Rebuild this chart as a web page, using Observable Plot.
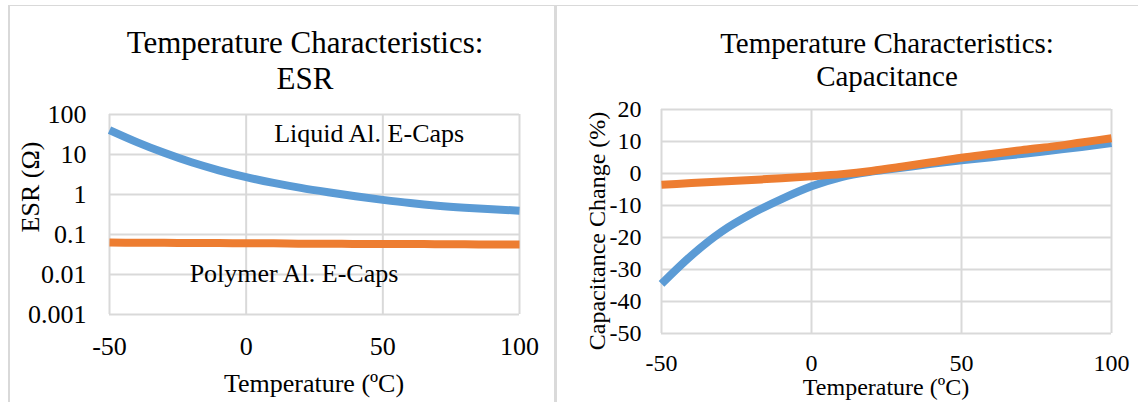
<!DOCTYPE html>
<html>
<head>
<meta charset="utf-8">
<script src="https://cdn.jsdelivr.net/npm/d3@7"></script>
<script src="https://cdn.jsdelivr.net/npm/@observablehq/plot@0.6"></script>
<style>
  html, body { margin: 0; padding: 0; background: #fff; }
  #page {
    position: relative; width: 1138px; height: 402px; overflow: hidden;
    font-family: "Liberation Serif", "Times New Roman", serif; color: #000;
  }
  .rule { position: absolute; background: #d9d9d9; }
  .chart { position: absolute; top: 95px; }
  .title, .axis-title { position: absolute; white-space: nowrap; text-align: center; }
  .title { transform: translateX(-50%); }
  .axis-title.x { transform: translateX(-50%); }
  .axis-title.y { transform: translate(-50%, -50%) rotate(-90deg); }
</style>
</head>
<body>
<div id="page">
  <div class="rule" style="left:8px; top:5px; width:1130px; height:1px;"></div>
  <div class="rule" style="left:8px; top:5px; width:2px; height:397px;"></div>
  <div class="rule" style="left:554px; top:5px; width:3px; height:397px; background:#dadada;"></div>

  <div class="title" style="left:305px; top:25px; font-size:31px; line-height:36px;">Temperature Characteristics:<br>ESR</div>
  <div class="title" style="left:887px; top:27px; font-size:29px; line-height:33px;">Temperature Characteristics:<br>Capacitance</div>

  <div class="axis-title x" style="left:314px; top:371px; font-size:26px; line-height:26px;">Temperature (ºC)</div>
  <div class="axis-title y" style="left:31px; top:187px; font-size:26px; line-height:26px;">ESR (Ω)</div>
  <div class="axis-title x" style="left:886px; top:375px; font-size:24px; line-height:24px;">Temperature (ºC)</div>
  <div class="axis-title y" style="left:597px; top:231px; font-size:24px; line-height:24px;">Capacitance Change (%)</div>

  <div id="esr" class="chart" style="left:0px;"></div>
  <div id="cap" class="chart" style="left:557px;"></div>
</div>
<script>
// Temperature sample points (ºC)
const temps = [-50, -40, -30, -20, -10, 0, 10, 20, 30, 40, 50, 60, 70, 80, 90, 100];

// ESR (Ω) versus temperature
const esrLiquid  = [40.7, 20.4, 11.0, 6.38, 4.03, 2.72, 1.95, 1.46, 1.135, 0.90, 0.733, 0.61, 0.525, 0.468, 0.427, 0.394];
const esrPolymer = [0.063, 0.062, 0.062, 0.061, 0.061, 0.060, 0.060, 0.059, 0.059, 0.058, 0.058, 0.058, 0.057, 0.057, 0.056, 0.056];

// Capacitance change (%) versus temperature
const capLiquid  = [-34.5, -25.6, -18.2, -12.6, -8.0, -4.0, -1.1, 0.6, 1.8, 3.0, 4.1, 5.1, 6.1, 7.2, 8.3, 9.5];
const capPolymer = [-3.5, -3.0, -2.5, -2.0, -1.5, -0.9, -0.2, 0.8, 2.1, 3.5, 4.9, 6.1, 7.3, 8.4, 9.7, 11.0];

// Axis ticks
const tempTicks = [-50, 0, 50, 100];
const esrTicks = [0.001, 0.01, 0.1, 1, 10, 100];
const capTicks = [-50, -40, -30, -20, -10, 0, 10, 20];

// In-chart series labels (temperature, ESR)
const noteLabels = ["Liquid Al. E-Caps", "Polymer Al. E-Caps"];
const noteTemps = [45, 17.5];
const noteEsr = [34, 0.0102];

const BLUE = "#5b9bd5";
const ORANGE = "#ed7d31";
const GRID = "#d9d9d9";
const fmt = d => String(d);

const rows = (ys) => temps.map((t, i) => ({t, v: ys[i]}));
const notes = noteLabels.map((label, i) => ({label, t: noteTemps[i], v: noteEsr[i]}));

const lineStyle = {x: "t", y: "v", strokeWidth: 8, curve: "monotone-x", strokeLinecap: "butt"};

const esrPlot = Plot.plot({
  width: 554, height: 307,
  marginLeft: 109, marginRight: 35, marginTop: 19, marginBottom: 88,
  style: {fontFamily: "Liberation Serif, Times New Roman, serif", fontSize: "26px", color: "#000", background: "transparent", overflow: "visible"},
  x: {domain: [-50, 100]},
  y: {type: "log", domain: [0.001, 100]},
  marks: [
    Plot.gridX(tempTicks, {stroke: GRID, strokeOpacity: 1, strokeWidth: 2}),
    Plot.gridY(esrTicks, {stroke: GRID, strokeOpacity: 1, strokeWidth: 2}),
    Plot.axisX(tempTicks, {tickSize: 0, tickPadding: 22, tickFormat: fmt, label: null, fontSize: 26}),
    Plot.axisY(esrTicks, {tickSize: 0, tickPadding: 23, tickFormat: fmt, label: null, fontSize: 26}),
    Plot.line(rows(esrLiquid), {...lineStyle, stroke: BLUE}),
    Plot.line(rows(esrPolymer), {...lineStyle, stroke: ORANGE}),
    Plot.text(notes, {x: "t", y: "v", text: "label", fontSize: 26, fill: "#000", textAnchor: "middle"})
  ]
});

const capPlot = Plot.plot({
  width: 581, height: 307,
  marginLeft: 104, marginRight: 27, marginTop: 14, marginBottom: 69,
  style: {fontFamily: "Liberation Serif, Times New Roman, serif", fontSize: "24px", color: "#000", background: "transparent", overflow: "visible"},
  x: {domain: [-50, 100]},
  y: {domain: [-50, 20]},
  marks: [
    Plot.gridX(tempTicks, {stroke: GRID, strokeOpacity: 1, strokeWidth: 2}),
    Plot.gridY(capTicks, {stroke: GRID, strokeOpacity: 1, strokeWidth: 2}),
    Plot.axisX(tempTicks, {tickSize: 0, tickPadding: 20, tickFormat: fmt, label: null, fontSize: 24}),
    Plot.axisY(capTicks, {tickSize: 0, tickPadding: 20, tickFormat: fmt, label: null, fontSize: 24}),
    Plot.line(rows(capLiquid), {...lineStyle, stroke: BLUE}),
    Plot.line(rows(capPolymer), {...lineStyle, stroke: ORANGE})
  ]
});

document.getElementById("esr").append(esrPlot);
document.getElementById("cap").append(capPlot);
</script>
</body>
</html>
